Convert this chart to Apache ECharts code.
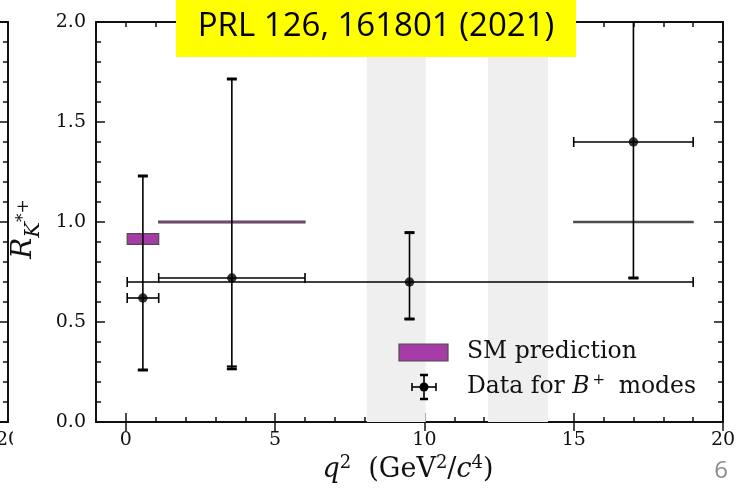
<!DOCTYPE html>
<html>
<head>
<meta charset="utf-8">
<script src="https://cdn.jsdelivr.net/npm/echarts@6/dist/echarts.min.js"></script>
<style>
  html, body { margin: 0; padding: 0; background: #fff; }
  #chart { width: 739px; height: 492px; }
</style>
</head>
<body>
<div id="chart"></div>
<script>
// tick labels
var xTicks = [0, 5, 10, 15, 20];
var yMajor = 0.5;

// vetoed q2 regions (grey bands)
var vetoLo = [8.07, 12.13];
var vetoHi = [10.04, 14.14];

// SM prediction boxes
var smLo = [0.045, 1.1, 15.0];
var smHi = [1.1, 6.0, 19.0];
var smMin = [0.888, 0.995, 0.997];
var smMax = [0.942, 1.005, 1.003];

// data for B+ modes
var binLo = [0.045, 1.1, 0.045, 15.0];
var binHi = [1.1, 6.0, 19.0, 19.0];
var binX = [0.57, 3.55, 9.5, 17.0];
var rVal = [0.62, 0.72, 0.70, 1.40];
var rLo = [0.26, 0.266, 0.515, 0.72];
var rHi = [1.23, 1.715, 0.947, 2.5];
var rLoStat = [0.26, 0.279, 0.515, 0.72];

var serif = "DejaVu Serif";
var ink = "#111";
var purple = "#a53ca8";

var bandData = vetoLo.map(function (v, i) { return [v, vetoHi[i]]; });
var smData = smLo.map(function (v, i) { return [v, smHi[i], smMin[i], smMax[i]]; });
var errData = binX.map(function (v, i) { return [v, rVal[i], binLo[i], binHi[i], rLo[i], rHi[i], rLoStat[i]]; });
var pointData = binX.map(function (v, i) { return [v, rVal[i]]; });

var dom = echarts.init(document.getElementById("chart"));

function minorX(pos, len, label) {
  return {
    type: "value", gridIndex: 0, position: pos, min: -1, max: 20, interval: 1,
    axisLine: { show: true, onZero: false, lineStyle: { color: ink, width: 2 } },
    axisTick: { show: true, inside: true, length: len, lineStyle: { color: ink, width: 1.5 } },
    axisLabel: {
      show: label, margin: 9, color: ink, fontFamily: serif, fontSize: 19,
      formatter: function (v) { return (v >= 0 && v % 5 === 0) ? String(v) : ""; }
    },
    splitLine: { show: false }
  };
}
function majorX(pos) {
  return {
    type: "value", gridIndex: 0, position: pos, min: -1, max: 20,
    axisLine: { show: false },
    axisTick: { show: true, inside: true, length: 9, customValues: xTicks, lineStyle: { color: ink, width: 1.5 } },
    axisLabel: { show: false, customValues: xTicks },
    splitLine: { show: false }
  };
}
function yAx(grid, pos, label) {
  return {
    type: "value", gridIndex: grid, position: pos, min: 0, max: 2, interval: yMajor,
    axisLine: { show: true, onZero: false, lineStyle: { color: ink, width: 2 } },
    axisTick: { show: true, inside: true, length: 9, lineStyle: { color: ink, width: 1.5 } },
    minorTick: { show: true, splitNumber: 5, length: 5, lineStyle: { color: ink, width: 1.5 } },
    axisLabel: {
      show: label, margin: 10, color: ink, fontFamily: serif, fontSize: 19,
      formatter: function (v) { return v.toFixed(1); }
    },
    splitLine: { show: false }
  };
}

// legend error-bar icon centred at (cx, cy)
function errIcon(cx, cy) {
  var thin = { stroke: "#000", lineWidth: 1.6 };
  var thick = { stroke: "#000", lineWidth: 2.5 };
  var segs = [
    [-12, 0, 12, 0, thin], [0, -12, 0, 12, thin],
    [-12, -4, -12, 4, thin], [12, -4, 12, 4, thin],
    [-4, -12, 4, -12, thick], [-4, 12, 4, 12, thick]
  ];
  var out = segs.map(function (s) {
    return { type: "line", z: 61, shape: { x1: cx + s[0], y1: cy + s[1], x2: cx + s[2], y2: cy + s[3] }, style: s[4] };
  });
  out.push({ type: "circle", z: 62, shape: { cx: cx, cy: cy, r: 4.5 }, style: { fill: "#000" } });
  return out;
}

var option = {
  backgroundColor: "#fff",
  animation: false,
  grid: [
    { left: 96, top: 22, width: 627, height: 400, outerBoundsMode: "none", containLabel: false },
    { left: -392, top: 22, width: 400, height: 400, outerBoundsMode: "none", containLabel: false }
  ],
  xAxis: [
    minorX("bottom", 5, true),
    majorX("bottom"),
    minorX("top", 5, false),
    majorX("top"),
    {
      type: "value", gridIndex: 1, position: "bottom", min: 0, max: 20, interval: 5,
      axisLine: { show: true, onZero: false, lineStyle: { color: ink, width: 2 } },
      axisTick: { show: false },
      axisLabel: {
        show: true, margin: 9, color: ink, fontFamily: serif, fontSize: 19,
        formatter: function (v) { return v === 20 ? "20" : ""; }
      },
      splitLine: { show: false }
    },
    {
      type: "value", gridIndex: 1, position: "top", min: 0, max: 20,
      axisLine: { show: true, onZero: false, lineStyle: { color: ink, width: 2 } },
      axisTick: { show: false }, axisLabel: { show: false }, splitLine: { show: false }
    }
  ],
  yAxis: [
    yAx(0, "left", true),
    yAx(0, "right", false),
    yAx(1, "right", false)
  ],
  series: [
    {
      name: "veto", type: "custom", xAxisIndex: 0, yAxisIndex: 0, z: 1, clip: true,
      data: bandData,
      renderItem: function (params, api) {
        var a = api.coord([api.value(0), 2]);
        var b = api.coord([api.value(1), 0]);
        return { type: "rect", shape: { x: a[0], y: a[1], width: b[0] - a[0], height: b[1] - a[1] },
                 style: { fill: "#efefef" } };
      }
    },
    {
      name: "SM prediction", type: "custom", xAxisIndex: 0, yAxisIndex: 0, z: 3, clip: true,
      data: smData,
      renderItem: function (params, api) {
        var a = api.coord([api.value(0), api.value(3)]);
        var b = api.coord([api.value(1), api.value(2)]);
        return { type: "rect", shape: { x: a[0], y: a[1], width: b[0] - a[0], height: b[1] - a[1] },
                 style: { fill: purple, stroke: "#4d4d4d", lineWidth: 1.2 } };
      }
    },
    {
      name: "errors", type: "custom", xAxisIndex: 0, yAxisIndex: 0, z: 4, clip: true,
      data: errData,
      renderItem: function (params, api) {
        var x = api.value(0), y = api.value(1);
        var l = api.coord([api.value(2), y]);
        var r = api.coord([api.value(3), y]);
        var b = api.coord([x, api.value(4)]);
        var t = api.coord([x, api.value(5)]);
        var s = api.coord([x, api.value(6)]);
        var thin = { stroke: "#000", lineWidth: 1.6 };
        var thick = { stroke: "#000", lineWidth: 3 };
        return { type: "group", children: [
          { type: "line", shape: { x1: l[0], y1: l[1], x2: r[0], y2: r[1] }, style: thin },
          { type: "line", shape: { x1: b[0], y1: b[1], x2: t[0], y2: t[1] }, style: thin },
          { type: "line", shape: { x1: l[0], y1: l[1] - 5, x2: l[0], y2: l[1] + 5 }, style: thin },
          { type: "line", shape: { x1: r[0], y1: r[1] - 5, x2: r[0], y2: r[1] + 5 }, style: thin },
          { type: "line", shape: { x1: b[0] - 5, y1: b[1], x2: b[0] + 5, y2: b[1] }, style: thick },
          { type: "line", shape: { x1: s[0] - 5, y1: s[1], x2: s[0] + 5, y2: s[1] }, style: thin },
          { type: "line", shape: { x1: t[0] - 5, y1: t[1], x2: t[0] + 5, y2: t[1] }, style: thick }
        ] };
      }
    },
    {
      name: "Data for B+ modes", type: "scatter", xAxisIndex: 0, yAxisIndex: 0, z: 5,
      symbol: "circle", symbolSize: 9.5, itemStyle: { color: "#000" },
      data: pointData
    }
  ],
  graphic: [
    // hide the part of the neighbouring panel's label
    { type: "rect", z: 50, shape: { x: 13, y: 428, width: 40, height: 24 }, style: { fill: "#fff" } },
    // banner
    { type: "rect", z: 60, shape: { x: 176, y: 0, width: 400, height: 57 }, style: { fill: "#ffff00" } },
    { type: "text", z: 61, x: 376, y: 27,
      style: { text: "PRL 126, 161801 (2021)", fill: "#000", font: "33px 'Open Sans'", align: "center", verticalAlign: "middle" } },
    // page number
    { type: "text", z: 61, x: 721, y: 471,
      style: { text: "6", fill: "#8c8c8c", font: "24px 'Open Sans'", align: "center", verticalAlign: "middle" } },
    // y axis title
    { type: "text", z: 61, x: 24, y: 229, rotation: Math.PI / 2,
      style: {
        text: "{r|R}{k|K}{s|*+}", align: "center", verticalAlign: "middle", fill: ink,
        rich: {
          r: { fontFamily: serif, fontStyle: "italic", fontSize: 28, lineHeight: 40, fill: ink },
          k: { fontFamily: serif, fontStyle: "italic", fontSize: 21, lineHeight: 21, verticalAlign: "bottom", fill: ink },
          s: { fontFamily: serif, fontSize: 17, lineHeight: 17, verticalAlign: "middle", fill: ink }
        }
      } },
    // x axis title
    { type: "text", z: 61, x: 408, y: 470,
      style: {
        text: "{i|q}{p|2}{n|  (GeV}{p|2}{n|/}{i|c}{p|4}{n|)}", align: "center", verticalAlign: "middle", fill: ink,
        rich: {
          n: { fontFamily: serif, fontSize: 27, lineHeight: 32, fill: ink },
          i: { fontFamily: serif, fontStyle: "italic", fontSize: 27, lineHeight: 32, fill: ink },
          p: { fontFamily: serif, fontSize: 18, lineHeight: 18, verticalAlign: "top", fill: ink }
        }
      } },
    // legend
    { type: "rect", z: 61, shape: { x: 399, y: 344, width: 49, height: 17 },
      style: { fill: purple, stroke: "#4d4d4d", lineWidth: 1.2 } },
    { type: "text", z: 61, x: 467, y: 352,
      style: { text: "SM prediction", fill: ink, font: "23.5px 'DejaVu Serif'", verticalAlign: "middle" } },
    { type: "text", z: 61, x: 467, y: 387,
      style: {
        text: "{n|Data for }{i|B}{p|+}{n| modes}", verticalAlign: "middle", fill: ink,
        rich: {
          n: { fontFamily: serif, fontSize: 23.5, lineHeight: 28, fill: ink },
          i: { fontFamily: serif, fontStyle: "italic", fontSize: 23.5, lineHeight: 28, fill: ink },
          p: { fontFamily: serif, fontSize: 15, lineHeight: 15, verticalAlign: "top", fill: ink, padding: [0, 6, 0, 3] }
        }
      } }
  ].concat(errIcon(424, 387))
};
dom.setOption(option);
window.addEventListener("resize", function () { dom.resize(); });
</script>
</body>
</html>
